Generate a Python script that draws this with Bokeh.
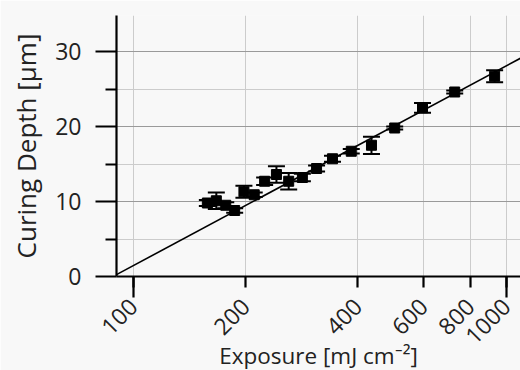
import math
from bokeh.plotting import figure
from bokeh.models import Range1d, FixedTicker, ColumnDataSource, Whisker, TeeHead
from bokeh.embed import file_html
from bokeh.resources import INLINE

# Data
exposure = [158, 167, 177, 187, 198, 211, 225, 242, 261, 284, 310, 342, 384, 435, 502, 596, 727, 930]
depth = [9.8, 10.1, 9.5, 8.8, 11.3, 10.9, 12.7, 13.6, 12.7, 13.2, 14.4, 15.7, 16.7, 17.5, 19.8, 22.5, 24.6, 26.7]
depth_err = [0.4, 1.1, 0.4, 0.3, 0.8, 0.3, 0.5, 1.1, 1.1, 0.5, 0.4, 0.4, 0.3, 1.15, 0.2, 0.65, 0.2, 0.8]

fit_x = [90.2, 1091]
fit_y = [0.25, 29.1]

x_ticks = [100, 200, 400, 600, 800, 1000]
x_tick_labels = ["100", "200", "400", "600", "800", "1000"]
x_long_ticks = [100, 1000]
y_ticks = [0, 10, 20, 30]
y_minor_ticks = [5, 15, 25]

FONT = "Open Sans"
BG = "#f8f8f8"
TXT = "#222222"

p = figure(frame_width=404, frame_height=261, x_axis_type="log",
           x_range=Range1d(90.2, 1091), y_range=Range1d(0, 34.8),
           output_backend="svg", toolbar_location=None,
           min_border_left=116, min_border_right=0, min_border_top=15, min_border_bottom=10)
p.background_fill_color = BG
p.border_fill_color = BG
p.outline_line_color = None

src = ColumnDataSource(dict(
    x=exposure, y=depth,
    upper=[d + e for d, e in zip(depth, depth_err)],
    lower=[d - e for d, e in zip(depth, depth_err)],
))

# axes
xa = p.xaxis[0]
xa.ticker = FixedTicker(ticks=x_ticks, minor_ticks=x_long_ticks)
xa.major_label_overrides = dict(zip(x_ticks, x_tick_labels))
xa.major_label_orientation = math.pi / 4
xa.major_tick_out = 11
xa.major_tick_in = 0
xa.minor_tick_out = 21
xa.minor_tick_in = 0
xa.axis_label = "Exposure [mJ cm\u207b\u00b2]"

ya = p.yaxis[0]
ya.ticker = FixedTicker(ticks=y_ticks, minor_ticks=y_minor_ticks)
ya.major_tick_out = 21
ya.major_tick_in = 0
ya.minor_tick_out = 11
ya.minor_tick_in = 0
ya.axis_label = "Curing Depth [\u00b5m]"

for ax in (xa, ya):
    ax.axis_line_width = 2.2
    ax.axis_line_color = "black"
    ax.major_tick_line_width = 2.2
    ax.minor_tick_line_width = 2.2
    ax.major_tick_line_color = "black"
    ax.minor_tick_line_color = "black"
    ax.major_label_text_font = FONT
    ax.major_label_text_font_size = "23px"
    ax.major_label_text_color = TXT
    ax.axis_label_text_font = FONT
    ax.axis_label_text_font_style = "normal"
    ax.axis_label_text_color = TXT

ya.axis_label_text_font_size = "26px"
xa.axis_label_text_font_size = "22.5px"
ya.major_label_standoff = 14
ya.axis_label_standoff = 8
xa.major_label_standoff = 5
xa.axis_label_standoff = -15

# grids
p.xgrid.grid_line_color = "#cccccc"
p.xgrid.grid_line_width = 1
p.ygrid.grid_line_color = "#9a9a9a"
p.ygrid.grid_line_width = 1
p.ygrid.minor_grid_line_color = "#cccccc"
p.ygrid.minor_grid_line_width = 1

# fit line
p.line(fit_x, fit_y, line_color="black", line_width=1.6)

# error bars
w = Whisker(base="x", upper="upper", lower="lower", source=src,
            line_color="black", line_width=2,
            upper_head=TeeHead(size=17, line_width=2, line_color="black"),
            lower_head=TeeHead(size=17, line_width=2, line_color="black"))
p.add_layout(w)

# markers
p.scatter("x", "y", source=src, marker="square", size=10, color="black")

open("out.html", "w").write(file_html(p, INLINE))
